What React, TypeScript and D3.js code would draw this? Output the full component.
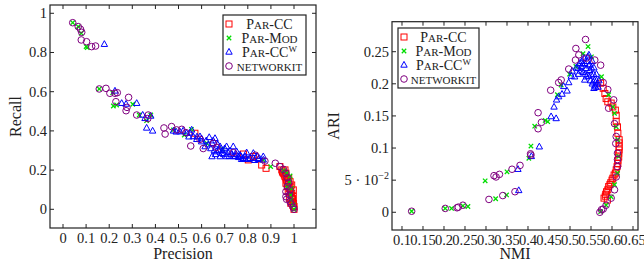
import React from 'react';
import * as d3 from 'd3';

type Pt = [number, number];

// ---- left panel: precision / recall ----
const prParCC: Pt[] = [
  [0.571, 0.388], [0.781, 0.282], [0.802, 0.252], [0.824, 0.269], [0.86, 0.226], [0.879, 0.209],
  [0.939, 0.218], [0.947, 0.201], [0.954, 0.184], [0.961, 0.201], [0.965, 0.184], [0.961, 0.167],
  [0.968, 0.15], [0.977, 0.158], [0.983, 0.141], [0.965, 0.133], [0.971, 0.116], [0.983, 0.116],
  [0.99, 0.124], [0.975, 0.09], [0.99, 0.082], [0.997, 0.099], [0.98, 0.056], [0.997, 0.065],
  [0.994, 0.048], [0.986, 0.031], [0.991, 0.039], [1.0, 0.014], [1.0, 0.0], [0.95, 0.19],
  [0.958, 0.175], [0.965, 0.16], [0.97, 0.145], [0.975, 0.13], [0.98, 0.105], [0.985, 0.09],
  [0.988, 0.07], [0.993, 0.055], [0.995, 0.02], [0.998, 0.03]
];
const prParMod: Pt[] = [
  [0.042, 0.952], [0.066, 0.932], [0.079, 0.898], [0.1, 0.83], [0.105, 0.825], [0.157, 0.614],
  [0.215, 0.595], [0.218, 0.527], [0.232, 0.532], [0.302, 0.536], [0.33, 0.481], [0.362, 0.452],
  [0.38, 0.481], [0.478, 0.405], [0.525, 0.379], [0.556, 0.408], [0.622, 0.337], [0.691, 0.306],
  [0.867, 0.252], [0.899, 0.218], [0.954, 0.197], [0.968, 0.184], [0.983, 0.17], [0.98, 0.141],
  [0.971, 0.116], [0.99, 0.107], [0.986, 0.073], [0.987, 0.048], [0.997, 0.022], [1.0, 0.0]
];
const prParCCw: Pt[] = [
  [0.179, 0.842], [0.225, 0.604], [0.254, 0.541], [0.273, 0.537], [0.319, 0.541], [0.345, 0.481],
  [0.355, 0.464], [0.38, 0.476], [0.362, 0.415], [0.388, 0.4], [0.478, 0.4], [0.506, 0.396],
  [0.535, 0.388], [0.557, 0.405], [0.564, 0.371], [0.579, 0.357], [0.593, 0.371], [0.6, 0.345],
  [0.615, 0.32], [0.633, 0.367], [0.658, 0.362], [0.645, 0.337], [0.645, 0.269], [0.665, 0.294],
  [0.68, 0.32], [0.68, 0.269], [0.687, 0.286], [0.708, 0.32], [0.708, 0.269], [0.723, 0.298],
  [0.737, 0.269], [0.737, 0.32], [0.752, 0.294], [0.766, 0.277], [0.773, 0.255], [0.788, 0.269],
  [0.795, 0.289], [0.802, 0.255], [0.824, 0.26], [0.824, 0.286], [0.846, 0.255], [0.867, 0.252],
  [0.867, 0.269], [0.62, 0.35], [0.63, 0.33], [0.64, 0.31], [0.65, 0.35], [0.655, 0.3],
  [0.66, 0.28], [0.67, 0.33], [0.675, 0.3], [0.69, 0.3], [0.695, 0.28], [0.7, 0.31],
  [0.715, 0.29], [0.72, 0.27], [0.73, 0.28], [0.745, 0.27], [0.75, 0.28], [0.76, 0.265],
  [0.77, 0.27], [0.78, 0.26], [0.79, 0.255], [0.81, 0.26], [0.83, 0.25], [0.85, 0.26],
  [0.84, 0.27], [0.6, 0.36], [0.58, 0.37], [0.55, 0.39], [0.52, 0.4], [0.49, 0.395], [0.545, 0.37]
];
const prNetworkit: Pt[] = [
  [0.042, 0.952], [0.066, 0.932], [0.076, 0.918], [0.081, 0.903], [0.079, 0.864], [0.102, 0.855],
  [0.124, 0.83], [0.141, 0.833], [0.157, 0.614], [0.186, 0.617], [0.203, 0.592], [0.225, 0.592],
  [0.235, 0.595], [0.229, 0.549], [0.284, 0.571], [0.273, 0.503], [0.277, 0.52], [0.319, 0.481],
  [0.369, 0.481], [0.367, 0.463], [0.437, 0.415], [0.442, 0.384], [0.47, 0.422], [0.492, 0.405],
  [0.514, 0.408], [0.532, 0.391], [0.553, 0.323], [0.593, 0.357], [0.607, 0.31], [0.651, 0.337],
  [0.665, 0.316], [0.737, 0.289], [0.833, 0.276], [0.874, 0.246], [0.919, 0.235], [0.939, 0.218],
  [0.954, 0.204], [0.965, 0.184], [0.971, 0.162], [0.977, 0.136], [0.971, 0.116], [0.983, 0.099],
  [0.965, 0.09], [0.98, 0.073], [0.965, 0.065], [0.968, 0.051], [0.983, 0.039], [0.988, 0.027],
  [0.997, 0.01], [1.0, 0.0]
];

// ---- right panel: NMI / ARI ----
const nmParCC: Pt[] = [
  [0.573, 0.201], [0.579, 0.193], [0.583, 0.185], [0.586, 0.177], [0.59, 0.172], [0.598, 0.17],
  [0.602, 0.164], [0.608, 0.159], [0.61, 0.151], [0.61, 0.141], [0.613, 0.133], [0.614, 0.123],
  [0.617, 0.113], [0.617, 0.102], [0.616, 0.092], [0.614, 0.081], [0.612, 0.071], [0.608, 0.061],
  [0.602, 0.053], [0.597, 0.046], [0.592, 0.04], [0.587, 0.032], [0.584, 0.025], [0.581, 0.022],
  [0.589, 0.019], [0.585, 0.028], [0.59, 0.035], [0.595, 0.043], [0.6, 0.05], [0.605, 0.058],
  [0.61, 0.066], [0.614, 0.076], [0.616, 0.086], [0.617, 0.097], [0.617, 0.108]
];
const nmParMod: Pt[] = [
  [0.123, 0.0016], [0.203, 0.006], [0.218, 0.006], [0.245, 0.01], [0.257, 0.009], [0.298, 0.049],
  [0.323, 0.021], [0.35, 0.063], [0.349, 0.027], [0.402, 0.084], [0.407, 0.103], [0.416, 0.134],
  [0.441, 0.143], [0.447, 0.141], [0.47, 0.183], [0.479, 0.198], [0.499, 0.215], [0.514, 0.227],
  [0.531, 0.247], [0.543, 0.258], [0.551, 0.242], [0.575, 0.211], [0.592, 0.183], [0.602, 0.164],
  [0.606, 0.154], [0.61, 0.133], [0.614, 0.113], [0.616, 0.087], [0.613, 0.061], [0.606, 0.043],
  [0.598, 0.024], [0.586, 0.011], [0.573, 0.001]
];
const nmParCCw: Pt[] = [
  [0.376, 0.067], [0.378, 0.034], [0.408, 0.087], [0.427, 0.102], [0.455, 0.149], [0.467, 0.146],
  [0.462, 0.164], [0.468, 0.175], [0.473, 0.18], [0.481, 0.184], [0.485, 0.196], [0.493, 0.189],
  [0.497, 0.202], [0.503, 0.212], [0.511, 0.211], [0.519, 0.224], [0.523, 0.232], [0.527, 0.227],
  [0.531, 0.218], [0.535, 0.232], [0.535, 0.206], [0.539, 0.224], [0.539, 0.211], [0.543, 0.242],
  [0.547, 0.221], [0.547, 0.23], [0.551, 0.214], [0.553, 0.235], [0.555, 0.203], [0.557, 0.193],
  [0.559, 0.197], [0.563, 0.205], [0.567, 0.195], [0.505, 0.22], [0.515, 0.225], [0.52, 0.215],
  [0.525, 0.22], [0.53, 0.23], [0.533, 0.24], [0.537, 0.215], [0.541, 0.235], [0.545, 0.212],
  [0.549, 0.205], [0.551, 0.225], [0.553, 0.2], [0.556, 0.215], [0.558, 0.205], [0.561, 0.195],
  [0.563, 0.215], [0.565, 0.2], [0.569, 0.205], [0.557, 0.225], [0.545, 0.228], [0.528, 0.235],
  [0.545, 0.245]
];
const nmNetworkit: Pt[] = [
  [0.123, 0.0016], [0.203, 0.006], [0.231, 0.007], [0.234, 0.008], [0.245, 0.011], [0.307, 0.02],
  [0.319, 0.057], [0.324, 0.055], [0.332, 0.059], [0.34, 0.026], [0.362, 0.067], [0.369, 0.032],
  [0.381, 0.073], [0.406, 0.091], [0.407, 0.089], [0.424, 0.13], [0.424, 0.155], [0.432, 0.14],
  [0.454, 0.19], [0.473, 0.202], [0.479, 0.206], [0.497, 0.223], [0.513, 0.237], [0.514, 0.255],
  [0.521, 0.245], [0.537, 0.269], [0.539, 0.24], [0.559, 0.237], [0.573, 0.229], [0.579, 0.202],
  [0.59, 0.191], [0.604, 0.175], [0.592, 0.162], [0.606, 0.138], [0.61, 0.118], [0.609, 0.107],
  [0.613, 0.092], [0.613, 0.082], [0.613, 0.071], [0.61, 0.055], [0.606, 0.035], [0.598, 0.022],
  [0.586, 0.011], [0.579, 0.005], [0.575, 0.004], [0.571, 0.0]
];

const prXTicks = [0, 0.1, 0.2, 0.3, 0.4, 0.5, 0.6, 0.7, 0.8, 0.9, 1];
const prYTicks = [0, 0.2, 0.4, 0.6, 0.8, 1];
const nmXTicks = [0.1, 0.15, 0.2, 0.25, 0.3, 0.35, 0.4, 0.45, 0.5, 0.55, 0.6, 0.65];
const nmYTicks = [0, 0.05, 0.1, 0.15, 0.2, 0.25];

// legend names as small-caps runs: [text, full-size capital?]
const seriesNames: [string, boolean][][] = [
  [['P', true], ['AR', false], ['-CC', true]],
  [['P', true], ['AR', false], ['-M', true], ['OD', false]],
  [['P', true], ['AR', false], ['-CC', true]],
  [['NETWORKIT', false]]
];
const COLORS = ['#ff0000', '#00dd00', '#0000ff', '#800080'];
const FONT = '"Liberation Serif", "DejaVu Serif", serif';
const INK = '#222';

const Marker = ({ kind, x, y }: { kind: number; x: number; y: number }) => {
  const c = COLORS[kind];
  if (kind === 0) return <rect x={x - 3} y={y - 3} width={6} height={6} fill="none" stroke={c} strokeWidth={1} />;
  if (kind === 1) {
    const s = 2.2;
    return <path d={`M${x - s},${y - s}L${x + s},${y + s}M${x - s},${y + s}L${x + s},${y - s}`} stroke={c} strokeWidth={1.3} />;
  }
  if (kind === 2) {
    return <path d={`M${x},${y - 3.6}L${x + 3.2},${y + 2.2}L${x - 3.2},${y + 2.2}Z`} fill="none" stroke={c} strokeWidth={1} />;
  }
  return <circle cx={x} cy={y} r={3.3} fill="none" stroke={c} strokeWidth={1} />;
};

const LegendLabel = ({ i }: { i: number }) => (
  <>
    {seriesNames[i].map(([t, big], j) => (
      <tspan key={j} fontSize={big ? 14 : 11}>{t}</tspan>
    ))}
    {i === 2 && <tspan fontSize={9} dy={-5}>W</tspan>}
  </>
);

interface PanelProps {
  frame: { x0: number; x1: number; y0: number; y1: number };
  xDomain: [number, number];
  yDomain: [number, number];
  xTicks: number[];
  yTicks: number[];
  yFmt: (v: number) => React.ReactNode;
  series: Pt[][];
  xLabel: string;
  yLabel: string;
  yLabelX: number;
  legend: { x: number; y: number; w: number; rows: number[] };
}

const Panel = ({ frame, xDomain, yDomain, xTicks, yTicks, yFmt, series, xLabel, yLabel, yLabelX, legend }: PanelProps) => {
  const x = d3.scaleLinear().domain(xDomain).range([frame.x0, frame.x1]);
  const y = d3.scaleLinear().domain(yDomain).range([frame.y1, frame.y0]);
  const tl = 4;
  return (
    <g fontFamily={FONT} fill={INK}>
      {series.map((pts, k) => (
        <g key={k}>
          {pts.map((p, j) => <Marker key={j} kind={k} x={x(p[0])} y={y(p[1])} />)}
        </g>
      ))}
      <rect x={frame.x0} y={frame.y0} width={frame.x1 - frame.x0} height={frame.y1 - frame.y0}
        fill="none" stroke={INK} strokeWidth={1.2} />
      {xTicks.map((t) => (
        <g key={'x' + t}>
          <line x1={x(t)} x2={x(t)} y1={frame.y1} y2={frame.y1 - tl} stroke={INK} />
          <line x1={x(t)} x2={x(t)} y1={frame.y0} y2={frame.y0 + tl} stroke={INK} />
          <text x={x(t)} y={frame.y1 + 15} textAnchor="middle" fontSize={14.5} fill={INK}>{String(t)}</text>
        </g>
      ))}
      {yTicks.map((t) => (
        <g key={'y' + t}>
          <line x1={frame.x0} x2={frame.x0 + tl} y1={y(t)} y2={y(t)} stroke={INK} />
          <line x1={frame.x1} x2={frame.x1 - tl} y1={y(t)} y2={y(t)} stroke={INK} />
          <text x={frame.x0 - 3} y={y(t) + 5} textAnchor="end" fontSize={14.5} fill={INK}>{yFmt(t)}</text>
        </g>
      ))}
      <text x={(frame.x0 + frame.x1) / 2} y={259} textAnchor="middle" fontSize={16} fill={INK}>{xLabel}</text>
      <text transform={`translate(${yLabelX},${(frame.y0 + frame.y1) / 2}) rotate(-90)`} textAnchor="middle"
        fontSize={16} fill={INK}>{yLabel}</text>
      <rect x={legend.x} y={legend.y} width={legend.w} height={legend.rows.length * 14 + 4}
        fill="#fff" stroke={INK} strokeWidth={1.2} />
      {legend.rows.map((k, r) => {
        const cy = legend.y + 9 + r * 14;
        return (
          <g key={'l' + k}>
            <Marker kind={k} x={legend.x + 6} y={cy} />
            <text x={legend.x + legend.w / 2 + 5} y={cy + 5} textAnchor="middle" fill={INK}>
              <LegendLabel i={k} />
            </text>
          </g>
        );
      })}
    </g>
  );
};

export default function App() {
  return (
    <svg width={644} height={265} style={{ position: 'absolute', left: 0, top: 0, background: '#fff' }}>
      <Panel
        frame={{ x0: 50, x1: 316, y0: 5, y1: 228 }}
        xDomain={[-0.0563, 1.0952]}
        yDomain={[-0.0954, 1.0423]}
        xTicks={prXTicks}
        yTicks={prYTicks}
        yFmt={(v) => String(v)}
        series={[prParCC, prParMod, prParCCw, prNetworkit]}
        xLabel="Precision"
        yLabel="Recall"
        yLabelX={21}
        legend={{ x: 223, y: 15, w: 83, rows: [0, 1, 2, 3] }}
      />
      <Panel
        frame={{ x0: 392, x1: 638, y0: 21.7, y1: 230 }}
        xDomain={[0.0762, 0.6619]}
        yDomain={[-0.0276, 0.2967]}
        xTicks={nmXTicks}
        yTicks={nmYTicks}
        yFmt={(v) => v === 0.05
          ? <><tspan>5 · 10</tspan><tspan fontSize={10} dy={-6}>−2</tspan></>
          : String(v)}
        series={[nmParCC, nmParMod, nmParCCw, nmNetworkit]}
        xLabel="NMI"
        yLabel="ARI"
        yLabelX={339}
        legend={{ x: 398, y: 28, w: 81, rows: [0, 1, 2, 3] }}
      />
    </svg>
  );
}
